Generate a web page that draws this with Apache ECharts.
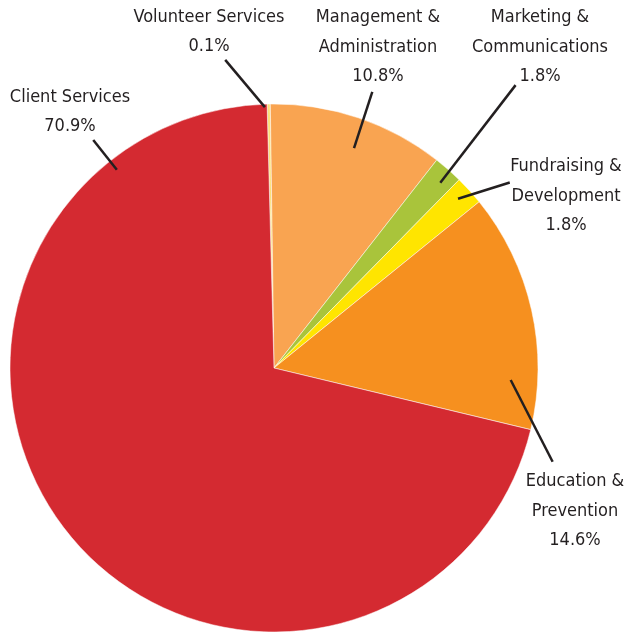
<!DOCTYPE html>
<html>
<head>
<meta charset="utf-8">
<script src="https://cdn.jsdelivr.net/npm/echarts@6/dist/echarts.min.js"></script>
<style>
    html, body { margin: 0; padding: 0; background: #fff; }
    #chart { width: 629px; height: 634px; }
</style>
</head>
<body>
<div id="chart"></div>
<script>
// 数据（顺时针，从顶部开始）
const categories = ['Volunteer Services', 'Management &\nAdministration', 'Marketing &\nCommunications', 'Fundraising &\nDevelopment', 'Education &\nPrevention', 'Client Services'];
const shares = [0.1, 10.8, 1.8, 1.8, 14.6, 70.9];
const sliceColors = ['#f9e07a', '#f9a451', '#a9c43b', '#ffe500', '#f6901f', '#d42a31'];

(function () {
    const CX = 274, CY = 368, R = 264;
    // 标签中心位置
    const labelPos = [[209, 32], [378, 47], [540, 47], [566, 196], [575, 511], [70, 112]];
    // 引导线：[内角, 内半径, 外角, 外半径]（角度从顶部顺时针）
    const leader = [[-2, 261, -9, 312], [20, 234, 19.6, 293], [41.9, 249, 40.5, 372],
                    [47.4, 250, 51.8, 300], [92.9, 237, 108.6, 294], [-38.4, 253, -38.4, 291]];

    function polar(deg, r) {
        const a = deg * Math.PI / 180;
        return [CX + r * Math.sin(a), CY - r * Math.cos(a)];
    }

    const pieData = categories.map(function (name, i) {
        return { name: name, value: shares[i] };
    });

    let myChart = echarts.init(document.getElementById('chart'));
    let option = {
        animation: false,
        color: sliceColors,
        series: [
            {
                // 扇区
                type: 'pie',
                center: [CX, CY],
                radius: R,
                startAngle: 91.5,
                clockwise: true,
                minAngle: 0.7,
                z: 1,
                itemStyle: {
                    borderColor: '#fff',
                    borderWidth: 0.5
                },
                label: { show: false },
                labelLine: { show: false },
                emphasis: { disabled: true },
                data: pieData
            },
            {
                // 透明的一层，只放标签和引导线（画在扇区上面）
                type: 'pie',
                center: [CX, CY],
                radius: R,
                startAngle: 91.5,
                clockwise: true,
                minAngle: 0.7,
                z: 3,
                silent: true,
                avoidLabelOverlap: false,
                itemStyle: {
                    color: 'rgba(0,0,0,0)',
                    borderWidth: 0
                },
                label: {
                    show: true,
                    position: 'outside',
                    color: '#231f20',
                    fontFamily: "'DejaVu Sans Condensed', 'Liberation Sans Narrow', sans-serif",
                    fontSize: 18,
                    lineHeight: 29.5,
                    align: 'center',
                    formatter: function (p) {
                        return p.name + '\n' + p.value.toFixed(1) + '%';
                    }
                },
                labelLine: {
                    show: true,
                    lineStyle: {
                        color: '#231f20',
                        width: 2.5,
                        opacity: 1
                    }
                },
                labelLayout: function (params) {
                    const i = params.dataIndex;
                    const l = leader[i];
                    return {
                        x: labelPos[i][0],
                        y: labelPos[i][1],
                        align: 'center',
                        verticalAlign: 'middle',
                        labelLinePoints: [polar(l[2], l[3]), polar(l[0], l[1])]
                    };
                },
                emphasis: { disabled: true },
                data: pieData
            }
        ]
    };
    myChart.setOption(option);

    window.addEventListener('resize', function () {
        myChart.resize();
    });
})();
</script>
</body>
</html>
